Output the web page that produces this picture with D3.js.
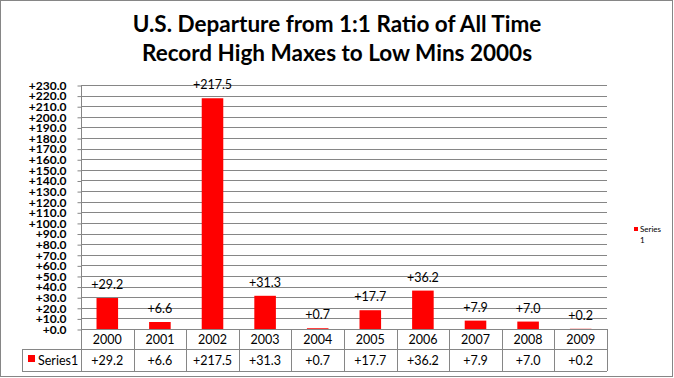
<!DOCTYPE html>
<html><head><meta charset="utf-8">
<script src="https://cdn.jsdelivr.net/npm/d3@7"></script>
<style>body{margin:0;background:#fff}svg{display:block}</style>
</head><body>
<script>
const categories = ["2000","2001","2002","2003","2004","2005","2006","2007","2008","2009"];
const values = [29.2, 6.6, 217.5, 31.3, 0.7, 17.7, 36.2, 7.9, 7.0, 0.2];
const seriesName = "Series1";
const titleLines = ["U.S. Departure from 1:1 Ratio of All Time", "Record High Maxes to Low Mins 2000s"];
const yTicks = d3.range(0, 231, 10);

(function(){
const W = 674, H = 378;
const fmt = v => "+" + d3.format(".1f")(v);
const svg = d3.select("body").append("svg").attr("width", W).attr("height", H);
svg.append("rect").attr("x",0.5).attr("y",0.5).attr("width",672).attr("height",376)
  .attr("fill","#fff").attr("stroke","#868686");

const pLeft = 81, pRight = 607, pTop = 85, pBottom = 329;
const x = d3.scaleBand().domain(categories).range([pLeft, pRight]).paddingInner(0.59).paddingOuter(0.295);
const xc = d3.scaleBand().domain(categories).range([pLeft, pRight]);
const y = d3.scaleLinear().domain([0, 230]).range([pBottom, pTop]);

const font = "Lato, 'Liberation Sans', sans-serif";
svg.append("g").selectAll("text").data(titleLines).join("text")
  .attr("x", 337).attr("y", (d,i)=>32+i*29).attr("text-anchor","middle")
  .attr("font-family",font).attr("font-weight","bold").attr("font-size",22.5)
  .attr("fill","#000").text(d=>d);

svg.append("g").selectAll("line").data(yTicks).join("line")
  .attr("x1", pLeft).attr("x2", pRight).attr("y1", d=>Math.round(y(d))+0.5).attr("y2", d=>Math.round(y(d))+0.5)
  .attr("stroke","#868686").attr("stroke-width",1);

const yAxis = d3.axisLeft(y).tickValues(yTicks).tickFormat(fmt).tickSize(4).tickPadding(11);
const ga = svg.append("g").attr("transform",`translate(${pLeft+0.5},0.5)`).call(yAxis);
ga.select(".domain").remove();
ga.selectAll(".tick line").attr("stroke","#868686");
ga.selectAll(".tick text").attr("font-family",font).attr("font-weight","bold").attr("font-size",12).attr("fill","#000");
svg.append("line").attr("x1",pLeft+0.5).attr("x2",pLeft+0.5).attr("y1",pTop).attr("y2",371).attr("stroke","#868686");

svg.append("g").selectAll("rect").data(values).join("rect")
  .attr("x",(d,i)=>x(categories[i])).attr("width",x.bandwidth())
  .attr("y",d=>y(d)).attr("height",d=>pBottom-y(d)).attr("fill","#ff0000");

svg.append("g").selectAll("text").data(values).join("text")
  .attr("x",(d,i)=>x(categories[i])+x.bandwidth()/2).attr("y",d=>y(d)-9)
  .attr("text-anchor","middle").attr("font-family",font).attr("font-size",12.5).attr("fill","#000")
  .text(fmt);

const row1 = 349, row2 = 371, tableLeft = 22;
const tg = svg.append("g");
tg.append("line").attr("x1",pLeft).attr("x2",pRight).attr("y1",pBottom+0.5).attr("y2",pBottom+0.5).attr("stroke","#868686");
tg.append("line").attr("x1",tableLeft).attr("x2",pRight).attr("y1",row1+0.5).attr("y2",row1+0.5).attr("stroke","#868686");
tg.append("line").attr("x1",tableLeft).attr("x2",pRight).attr("y1",row2+0.5).attr("y2",row2+0.5).attr("stroke","#868686");
tg.append("line").attr("x1",tableLeft+0.5).attr("x2",tableLeft+0.5).attr("y1",row1).attr("y2",row2).attr("stroke","#868686");
tg.selectAll("line.v").data(categories).join("line").attr("class","v")
  .attr("x1",d=>Math.round(xc(d)+xc.bandwidth())+0.5).attr("x2",d=>Math.round(xc(d)+xc.bandwidth())+0.5)
  .attr("y1",pBottom).attr("y2",row2).attr("stroke","#868686");
tg.selectAll("text.cat").data(categories).join("text").attr("class","cat")
  .attr("x",d=>xc(d)+xc.bandwidth()/2).attr("y",343.5).attr("text-anchor","middle")
  .attr("font-family",font).attr("font-size",12.5).attr("fill","#000").text(d=>d);
tg.selectAll("text.val").data(values).join("text").attr("class","val")
  .attr("x",(d,i)=>xc(categories[i])+xc.bandwidth()/2).attr("y",364.5).attr("text-anchor","middle")
  .attr("font-family",font).attr("font-size",12.5).attr("fill","#000").text(fmt);
tg.append("rect").attr("x",28).attr("y",355).attr("width",7).attr("height",7).attr("fill","#ff0000");
tg.append("text").attr("x",38).attr("y",364.5).attr("font-family",font).attr("font-size",12.5).attr("fill","#000").text(seriesName);

const lg = svg.append("g");
lg.append("rect").attr("x",634).attr("y",227).attr("width",4).attr("height",4).attr("fill","#ff0000");
lg.append("text").attr("x",640).attr("y",232).attr("font-family",font).attr("font-size",8).attr("fill","#000").text("Series");
lg.append("text").attr("x",640).attr("y",243).attr("font-family",font).attr("font-size",8).attr("fill","#000").text("1");
})();
</script>
</body></html>
